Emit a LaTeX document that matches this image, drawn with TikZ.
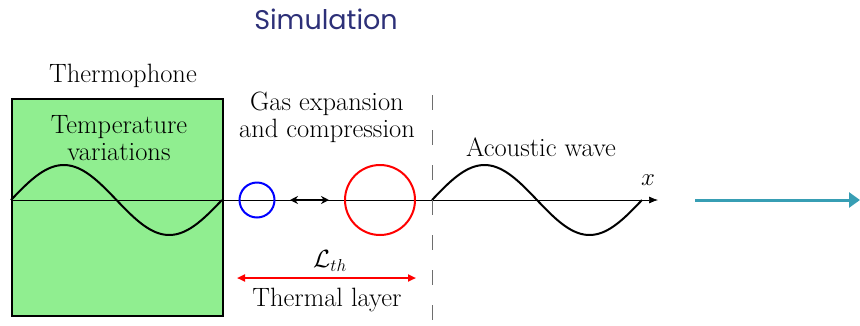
\documentclass[tikz,border=0pt]{standalone}
\usepackage{fontspec}
\newfontfamily\titlefont{Poppins}
\usetikzlibrary{arrows.meta}
\definecolor{titleblue}{RGB}{45,48,120}
\definecolor{boxgreen}{RGB}{144,238,144}
\definecolor{teal}{RGB}{55,158,180}
\definecolor{dashgray}{RGB}{110,110,110}
\tikzset{
  lbl/.style={font=\fontsize{26.5}{27}\selectfont, align=center, inner sep=0pt},
  wave/.style={line width=2pt, black},
  axisline/.style={line width=0.7pt, black},
}
\begin{document}
\begin{tikzpicture}[x=1pt,y=-1pt]
\useasboundingbox (0,0) rectangle (860,325);
% title
\node[font=\titlefont\fontsize{27}{30}\selectfont, text=titleblue, inner sep=0pt] (title) at (326,19) {Simulation};
% thermophone box
\node[lbl] (thermo) at (123,76) {Thermophone};
\node[draw=black, line width=1.8pt, fill=boxgreen, minimum width=211pt, minimum height=217pt, inner sep=0pt, anchor=north west] (box) at (11,98) {};
\node[lbl] (tempvar) at (119,138) {Temperature\\variations};
% axis
\coordinate (axstart) at (11,200);
\coordinate (axend) at (658,200);
\draw[axisline, -{Latex[length=9pt,width=7pt]}] (axstart) -- (axend);
\node[lbl] (xl) at (648,180) {$x$};
% waves
\draw[wave] plot[domain=0:360, samples=80] ({11+\x/360*211},{200-35*sin(\x)});
\draw[wave] plot[domain=0:360, samples=80] ({432+\x/360*210},{200-35*sin(\x)});
% gas labels
\node[lbl] (gas) at (327,117) {Gas expansion\\and compression};
% circles
\node[draw=blue, line width=2pt, circle, minimum size=35pt, inner sep=0pt] (cb) at (257,200) {};
\node[draw=red, line width=2pt, circle, minimum size=70pt, inner sep=0pt] (cr) at (380,200) {};
\coordinate (da) at (290,200);
\coordinate (db) at (329,200);
\draw[line width=2pt, {Stealth[length=8pt,width=8pt]}-{Stealth[length=8pt,width=8pt]}] (da) -- (db);
% dashed line
\coordinate (dtop) at (432,95);
\coordinate (dbot) at (432,325);
\draw[dashgray, line width=1pt, dash pattern=on 15pt off 20pt] (dtop) -- (dbot);
% acoustic label
\node[lbl] (ac) at (541,147) {Acoustic wave};
% thermal layer
\node[lbl] (lth) at (330,261) {$\mathcal{L}_{th}$};
\coordinate (ra) at (237,278);
\coordinate (rb) at (416,278);
\draw[red, line width=2pt, {Triangle[length=8pt,width=7pt]}-{Triangle[length=8pt,width=7pt]}] (ra) -- (rb);
\node[lbl] (tl) at (327,300) {Thermal layer};
% teal arrow
\coordinate (ta) at (695,200);
\coordinate (tb) at (860,200);
\draw[teal, line width=3pt, -{Triangle[length=11pt,width=15pt]}] (ta) -- (tb);
\end{tikzpicture}
\end{document}
